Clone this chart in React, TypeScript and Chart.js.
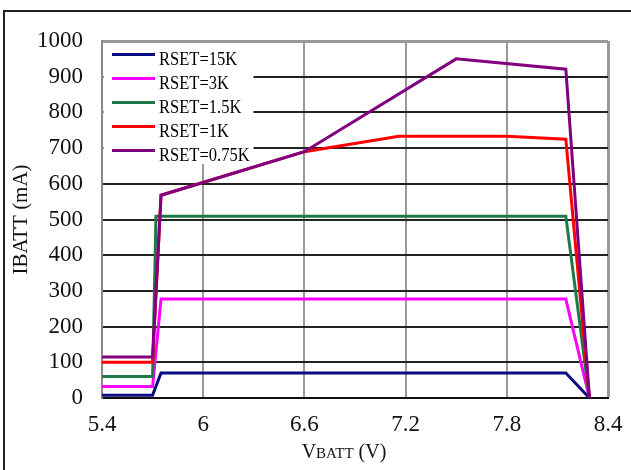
import React, { useEffect, useRef } from "react";
import { Chart, registerables } from "chart.js";

Chart.register(...registerables);

// ---- data ----
const seriesLabels = ["RSET=15K", "RSET=3K", "RSET=1.5K", "RSET=1K", "RSET=0.75K"];
const seriesColors = ["#0b0b82", "#ff00ff", "#1e7848", "#ff0000", "#800080"];

const vbatt15k = [5.4, 5.7, 5.75, 8.15, 8.29];
const ibatt15k = [8, 8, 70, 70, 0];

const vbatt3k = [5.4, 5.7, 5.75, 8.15, 8.29];
const ibatt3k = [32, 32, 277, 277, 0];

const vbatt1p5k = [5.4, 5.7, 5.72, 8.15, 8.29];
const ibatt1p5k = [60, 60, 509, 509, 0];

const vbatt1k = [5.4, 5.7, 5.75, 6.6, 7.16, 7.8, 8.15, 8.29];
const ibatt1k = [100, 100, 568, 690, 733, 733, 725, 0];

const vbatt075k = [5.4, 5.7, 5.75, 6.6, 7.5, 8.15, 8.29];
const ibatt075k = [115, 115, 568, 690, 950, 921, 0];

const xTicks = [5.4, 6, 6.6, 7.2, 7.8, 8.4];
const yTicks = [0, 100, 200, 300, 400, 500, 600, 700, 800, 900, 1000];

const yTitle = "IBATT (mA)";
const xTitleParts = ["V", "BATT", " (V)"];

const seriesX = [vbatt15k, vbatt3k, vbatt1p5k, vbatt1k, vbatt075k];
const seriesY = [ibatt15k, ibatt3k, ibatt1p5k, ibatt1k, ibatt075k];
const drawOrder = [3, 4, 2, 1, 0];

const FONT = "'Liberation Serif', 'Times New Roman', serif";

const overlayPlugin = {
  id: "overlay",
  beforeDatasetsDraw(chart: any) {
    const { ctx, chartArea: a } = chart;
    ctx.save();
    // legend box (white, hides grid)
    ctx.fillStyle = "#ffffff";
    ctx.fillRect(a.left + 1.5, a.top + 2, 150, 121);
    seriesLabels.forEach((label, i) => {
      const y = a.top + 13.5 + i * 24;
      ctx.strokeStyle = seriesColors[i];
      ctx.lineWidth = 3;
      ctx.beginPath();
      ctx.moveTo(a.left + 10, y);
      ctx.lineTo(a.left + 53, y);
      ctx.stroke();
      ctx.save();
      ctx.translate(a.left + 57, y + 10);
      ctx.scale(0.87, 1);
      ctx.fillStyle = "#000";
      ctx.font = `19px ${FONT}`;
      ctx.textBaseline = "alphabetic";
      ctx.textAlign = "left";
      ctx.fillText(label, 0, 0);
      ctx.restore();
    });
    ctx.restore();
  },
  afterDraw(chart: any) {
    const { ctx, chartArea: a, width, height } = chart;
    ctx.save();
    // x axis title with small-caps subscript style
    const sizes = [20, 15, 20];
    let total = 0;
    xTitleParts.forEach((t, i) => {
      ctx.font = `${sizes[i]}px ${FONT}`;
      total += ctx.measureText(t).width;
    });
    let x = (a.left + a.right) / 2 - 11 - total / 2;
    const baseY = a.bottom + 60;
    ctx.fillStyle = "#111";
    ctx.textBaseline = "alphabetic";
    ctx.textAlign = "left";
    xTitleParts.forEach((t, i) => {
      ctx.font = `${sizes[i]}px ${FONT}`;
      ctx.fillText(t, x, baseY);
      x += ctx.measureText(t).width;
    });
    // outer frame (left and top edges)
    ctx.strokeStyle = "#222";
    ctx.lineWidth = 2;
    ctx.beginPath();
    ctx.moveTo(4, height);
    ctx.lineTo(4, 11);
    ctx.lineTo(width, 11);
    ctx.stroke();
    ctx.restore();
  },
};

export default function App() {
  const ref = useRef<HTMLCanvasElement | null>(null);

  useEffect(() => {
    if (!ref.current) return;
    const chart = new Chart(ref.current, {
      type: "line",
      data: {
        datasets: seriesLabels.map((label, i) => ({
          label,
          data: seriesX[i].map((v, j) => ({ x: v, y: seriesY[i][j] })),
          borderColor: seriesColors[i],
          backgroundColor: seriesColors[i],
          borderWidth: 3,
          pointRadius: 0,
          tension: 0,
          fill: false,
          order: drawOrder[i],
        })),
      },
      options: {
        animation: false,
        responsive: false,
        devicePixelRatio: 1,
        layout: { padding: { left: 0, top: 41, right: 23, bottom: 0 } },
        plugins: {
          legend: { display: false },
          tooltip: { enabled: false },
        },
        scales: {
          x: {
            type: "linear",
            min: 5.4,
            max: 8.4,
            afterBuildTicks: (s: any) => {
              s.ticks = xTicks.map((v) => ({ value: v }));
            },
            afterFit: (s: any) => {
              s.height = 72;
              s.paddingLeft = 0;
              s.paddingRight = 0;
            },
            ticks: {
              autoSkip: false,
              maxRotation: 0,
              padding: 13,
              color: "#111",
              font: { family: FONT, size: 23 },
              callback: (v: any) => String(v),
            },
            grid: {
              color: "#999",
              lineWidth: (c: any) => (c.tick && c.tick.value === 8.4 ? 3 : 2),
              drawTicks: false,
            },
            border: { color: "#111", width: 2 },
          },
          y: {
            type: "linear",
            min: 0,
            max: 1000,
            afterBuildTicks: (s: any) => {
              s.ticks = yTicks.map((v) => ({ value: v }));
            },
            afterFit: (s: any) => {
              s.width = 102;
              s.paddingTop = 0;
              s.paddingBottom = 0;
            },
            ticks: {
              padding: 19,
              color: "#111",
              font: { family: FONT, size: 23 },
              callback: (v: any) => String(v),
            },
            grid: {
              color: (c: any) => (c.tick && c.tick.value === 1000 ? "#999" : "#222"),
              lineWidth: (c: any) => (c.tick && c.tick.value === 1000 ? 3 : 2),
              drawTicks: false,
            },
            border: { color: "#888", width: 2 },
            title: {
              display: true,
              text: yTitle,
              color: "#111",
              font: { family: FONT, size: 21 },
              padding: { top: 9, bottom: 0 },
            },
          },
        },
      },
      plugins: [overlayPlugin],
    });
    return () => chart.destroy();
  }, []);

  return (
    <div
      style={{
        position: "fixed",
        left: 0,
        top: 0,
        width: 631,
        height: 470,
        background: "#ffffff",
      }}
    >
      <canvas ref={ref} width={631} height={470} style={{ display: "block" }} />
    </div>
  );
}
